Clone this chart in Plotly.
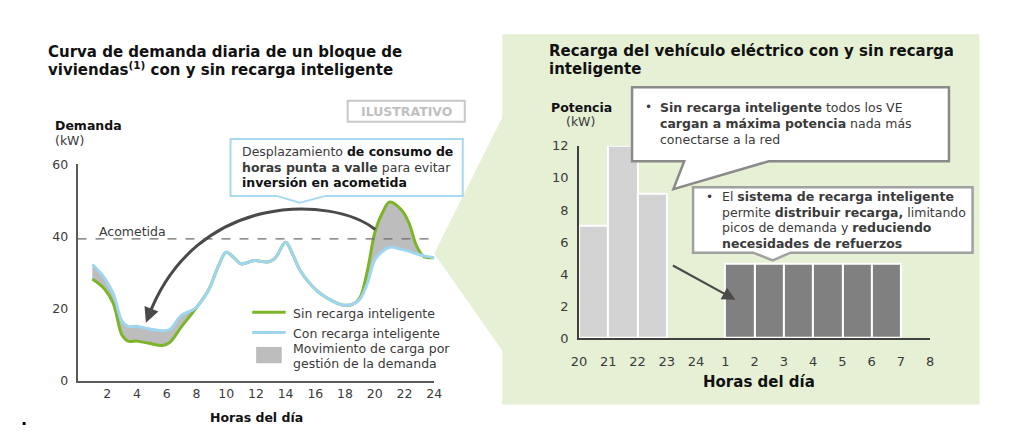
import plotly.graph_objects as go

# ---------------- data ----------------
hours = [1, 1.8, 2.4, 3.0, 3.4, 4.0, 4.8, 5.7, 6.2, 7.0, 7.9, 8.8, 9.5, 10.0, 10.6,
         11.0, 11.9, 12.8, 13.3, 14.0, 14.5, 15.0, 16.1, 17.2, 17.8, 18.5, 19.0,
         19.5, 20.0, 20.5, 21.0, 21.8, 22.3, 22.8, 23.3, 24]
con_recarga = [32.2, 28.6, 24.2, 16.5, 15.1, 15.1, 14.4, 13.9, 14.2, 18.2, 20.0, 25.0,
               32.0, 35.6, 33.8, 32.4, 33.3, 32.9, 34.0, 38.4, 34.8, 30.4, 25.0, 22.0,
               21.0, 21.2, 22.6, 27.0, 33.5, 35.8, 37.0, 36.4, 35.9, 35.2, 34.6, 34.1]
sin_recarga = [28.2, 25.5, 21.5, 12.6, 11.0, 11.0, 10.4, 9.8, 10.6, 15.0, 19.7, 25.0,
               32.0, 35.6, 33.8, 32.4, 33.3, 32.9, 34.0, 38.4, 34.8, 30.4, 25.0, 22.0,
               21.0, 21.2, 23.0, 30.5, 41.0, 46.4, 49.5, 47.3, 43.7, 37.5, 34.4, 34.1]
acometida_kw = 39.3
left_xticks = [2, 4, 6, 8, 10, 12, 14, 16, 18, 20, 22, 24]
left_yticks = [0, 20, 40, 60]

slot_labels = ["20", "21", "22", "23", "24", "1", "2", "3", "4", "5", "6", "7", "8"]
sin_bar_start = ["20", "21", "22"]
sin_bar_kw = [7, 12, 9]
con_bar_start = ["1", "2", "3", "4", "5", "6"]
con_bar_kw = [4.67, 4.67, 4.67, 4.67, 4.67, 4.67]
right_yticks = [0, 2, 4, 6, 8, 10, 12]

# ---------------- helpers ----------------
# page has an 8px body margin; figure sized so the page is 1024x436
OFF = 8
W, H = 1024 - 2 * OFF, 436 - 2 * OFF
FONT = "DejaVu Sans"
def X(p): return (p - OFF) / W
def Y(p): return 1 - (p - OFF) / H

GREEN = "#7db52a"
BLUE = "#9fd5ef"
FILLG = "#bdbdbd"
DARK = "#4a4a4a"
TXT = "#3a3a3a"

fig = go.Figure()

fig.add_trace(go.Scatter(x=hours, y=con_recarga, mode="lines", line=dict(width=0, shape="spline"),
                         xaxis="x", yaxis="y", showlegend=False, hoverinfo="skip"))
fig.add_trace(go.Scatter(x=hours, y=sin_recarga, mode="lines", line=dict(width=0, shape="spline"),
                         fill="tonexty", fillcolor=FILLG, xaxis="x", yaxis="y",
                         showlegend=False, hoverinfo="skip"))
fig.add_trace(go.Scatter(x=hours, y=sin_recarga, mode="lines", name="Sin recarga inteligente",
                         line=dict(width=3, color=GREEN, shape="spline"), xaxis="x", yaxis="y",
                         showlegend=False))
fig.add_trace(go.Scatter(x=hours, y=con_recarga, mode="lines", name="Con recarga inteligente",
                         line=dict(width=3, color=BLUE, shape="spline"), xaxis="x", yaxis="y",
                         showlegend=False))

fig.add_trace(go.Bar(x=[slot_labels.index(s) + 0.5 for s in sin_bar_start], y=sin_bar_kw, width=1,
                     marker=dict(color="#d3d3d3", line=dict(color="white", width=2)),
                     xaxis="x2", yaxis="y2", showlegend=False))
fig.add_trace(go.Bar(x=[slot_labels.index(s) + 0.5 for s in con_bar_start], y=con_bar_kw, width=1,
                     marker=dict(color="#808080", line=dict(color="white", width=2)),
                     xaxis="x2", yaxis="y2", showlegend=False))

shapes = []
shapes.append(dict(type="rect", xref="paper", yref="paper", x0=X(502), x1=X(987), y0=Y(412), y1=Y(27),
                   fillcolor="#e6f0d5", line=dict(width=0), layer="below"))
shapes.append(dict(type="path", xref="paper", yref="paper",
                   path=f"M {X(433)},{Y(255)} L {X(503)},{Y(112)} L {X(503)},{Y(357)} Z",
                   fillcolor="#e6f0d5", line=dict(width=0), layer="below"))
shapes.append(dict(type="line", xref="x", yref="y", x0=0, x1=24, y0=acometida_kw, y1=acometida_kw,
                   line=dict(color="#6d6d6d", width=1.3, dash="dash")))
shapes.append(dict(type="path", xref="x", yref="y",
                   path="M 20.03,41.9 C 17.18,51.3 7.91,52.6 4.75,17.6",
                   line=dict(color=DARK, width=3)))

def callout(pts, color, width):
    d = "M " + " L ".join(f"{X(a)},{Y(b)}" for a, b in pts) + " Z"
    return dict(type="path", xref="paper", yref="paper", path=d, fillcolor="white",
                line=dict(color=color, width=width))

shapes.append(callout([(226, 136), (462, 136), (462, 195), (323, 195), (296, 202), (273, 195), (226, 195)],
                      "#a8d9f1", 2))
shapes.append(callout([(634, 82), (956, 82), (956, 159), (773, 159), (676, 188), (687, 159), (634, 159)],
                      "#8a8a8a", 2.5))
shapes.append(callout([(696, 186), (980, 186), (980, 254), (795, 254), (777, 262), (757, 254), (696, 254)],
                      "#a0a0a0", 2.5))
shapes.append(dict(type="rect", xref="paper", yref="paper", x0=X(345), x1=X(464), y0=Y(118), y1=Y(96),
                   fillcolor="white", line=dict(color="#c8c8c8", width=2)))
shapes.append(dict(type="line", xref="paper", yref="paper", x0=X(248), x1=X(282), y0=Y(316), y1=Y(316),
                   line=dict(color=GREEN, width=3)))
shapes.append(dict(type="line", xref="paper", yref="paper", x0=X(248), x1=X(282), y0=Y(337), y1=Y(337),
                   line=dict(color=BLUE, width=3)))
shapes.append(dict(type="rect", xref="paper", yref="paper", x0=X(252), x1=X(278), y0=Y(369), y1=Y(352),
                   fillcolor=FILLG, line=dict(width=0)))

ann = []
def txt(x, y, s, size=12.5, color=TXT, xanchor="left", bold=False):
    if bold:
        s = f"<b>{s}</b>"
    ann.append(dict(xref="paper", yref="paper", x=X(x), y=Y(y), text=s, showarrow=False,
                    xanchor=xanchor, yanchor="middle", font=dict(family=FONT, size=size, color=color)))

txt(38, 45, "Curva de demanda diaria de un bloque de", 15, "#111", bold=True)
txt(38, 63, "viviendas<sup>(1)</sup> con y sin recarga inteligente", 15, "#111", bold=True)
txt(548, 44, "Recarga del vehículo eléctrico con y sin recarga", 15, "#111", bold=True)
txt(548, 63, "inteligente", 15, "#111", bold=True)
txt(46, 122, "Demanda", 12.5, "#111", bold=True)
txt(46, 137, "(kW)", 12.5, TXT)
txt(252, 425, "Horas del día", 12.5, "#111", xanchor="center", bold=True)
txt(550, 103, "Potencia", 12.5, "#111", bold=True)
txt(565, 118, "(kW)", 12.5, TXT)
txt(763, 388, "Horas del día", 15, "#111", xanchor="center", bold=True)
txt(404.5, 107, "ILUSTRATIVO", 12.5, "#c0c0c0", xanchor="center", bold=True)
txt(90, 232, "Acometida", 12.5, TXT)
txt(236, 149, "Desplazamiento <b style='color:#111'>de consumo de</b>", 12.5, TXT)
txt(236, 165, "<b>horas punta a valle</b> para evitar", 12.5, TXT)
txt(236, 181, "<b>inversión en acometida</b>", 12.5, "#111")
txt(287, 317, "Sin recarga inteligente", 12.5, TXT)
txt(287, 338, "Con recarga inteligente", 12.5, TXT)
txt(287, 354, "Movimiento de carga por", 12.5, TXT)
txt(287, 369, "gestión de la demanda", 12.5, TXT)
txt(645, 103, "•", 12, TXT)
txt(660, 103, "<b>Sin recarga inteligente</b> todos los VE", 12.5, TXT)
txt(660, 120, "<b>cargan a máxima potencia</b> nada más", 12.5, TXT)
txt(660, 136, "conectarse a la red", 12.5, TXT)
txt(707, 196, "•", 12, TXT)
txt(723, 196, "El <b>sistema de recarga inteligente</b>", 12.5, TXT)
txt(723, 212, "permite <b>distribuir recarga,</b> limitando", 12.5, TXT)
txt(723, 228, "picos de demanda y <b>reduciendo</b>", 12.5, TXT)
txt(723, 244, "<b>necesidades de refuerzos</b>", 12.5, TXT)
txt(16, 427, "<b>.</b>", 16, "#000", xanchor="center")

ann.append(dict(xref="x", yref="y", x=4.6, y=16.1, ax=4.8, ay=-12, axref="pixel", ayref="pixel",
                text="", showarrow=True, arrowhead=2, arrowsize=1, arrowwidth=3, arrowcolor=DARK))
ann.append(dict(xref="paper", yref="paper", x=X(739), y=Y(303), ax=-64, ay=-35,
                text="", showarrow=True, arrowhead=2, arrowsize=1.2, arrowwidth=2.2, arrowcolor=DARK))

axis_common = dict(showgrid=False, zeroline=False, ticks="", fixedrange=True)

fig.update_layout(
    width=W, height=H, margin=dict(l=0, r=0, t=0, b=0),
    paper_bgcolor="white", plot_bgcolor="rgba(0,0,0,0)",
    font=dict(family=FONT, color=TXT),
    showlegend=False, bargap=0,
    xaxis=dict(domain=[X(70.5), X(433)], range=[0, 24], tickvals=left_xticks, anchor="y",
               showline=True, linecolor="#5a5a5a", linewidth=1.5,
               tickfont=dict(size=12.5, color=TXT), **axis_common),
    yaxis=dict(domain=[Y(387.3), Y(162)], range=[0, 60], tickvals=left_yticks, anchor="x",
               showline=True, linecolor="#5a5a5a", linewidth=1.5, ticklabelstandoff=5,
               tickfont=dict(size=12.5, color=TXT), **axis_common),
    xaxis2=dict(domain=[X(580), X(937)], range=[0, 12], tickvals=list(range(len(slot_labels))),
                ticktext=slot_labels, anchor="y2", showline=True, linecolor="#404040", linewidth=1.5,
                ticklabelstandoff=10, tickfont=dict(size=13, color=TXT), **axis_common),
    yaxis2=dict(domain=[Y(343), Y(143)], range=[0, 12], tickvals=right_yticks, anchor="x2",
                showline=True, linecolor="#404040", linewidth=1.5, ticklabelstandoff=6,
                tickfont=dict(size=13, color=TXT), **axis_common),
    shapes=shapes, annotations=ann,
)

fig.write_html("out.html", config={"displayModeBar": False})
